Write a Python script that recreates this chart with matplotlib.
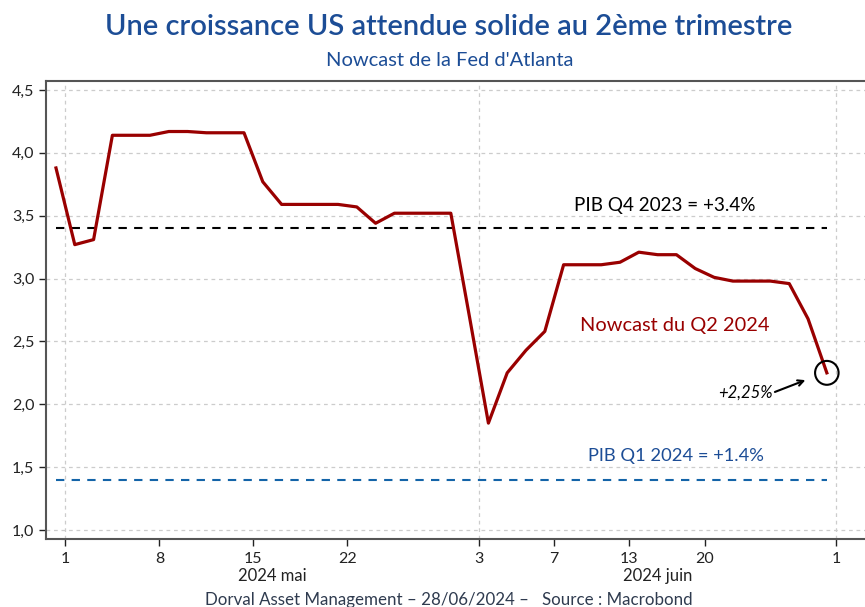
import numpy as np
import matplotlib
matplotlib.use("Agg")
import matplotlib.pyplot as plt
from matplotlib.patches import Ellipse

# GDPNow Q2 2024 (business days, holidays removed)
dates = ["2024-04-30",
         "2024-05-01", "2024-05-02", "2024-05-03", "2024-05-06", "2024-05-07",
         "2024-05-08", "2024-05-09", "2024-05-10", "2024-05-13", "2024-05-14",
         "2024-05-15", "2024-05-16", "2024-05-17", "2024-05-20", "2024-05-21",
         "2024-05-22", "2024-05-23", "2024-05-24", "2024-05-28", "2024-05-29",
         "2024-05-30", "2024-05-31",
         "2024-06-03", "2024-06-04", "2024-06-05", "2024-06-06", "2024-06-07",
         "2024-06-10", "2024-06-11", "2024-06-12", "2024-06-13", "2024-06-14",
         "2024-06-17", "2024-06-18", "2024-06-20", "2024-06-21", "2024-06-24",
         "2024-06-25", "2024-06-26", "2024-06-27", "2024-06-28"]
nowcast = [3.88,
           3.27, 3.31, 4.14, 4.14, 4.14,
           4.17, 4.17, 4.16, 4.16, 4.16,
           3.77, 3.59, 3.59, 3.59, 3.59,
           3.57, 3.44, 3.52, 3.52, 3.52,
           3.52, 2.69,
           1.85, 2.25, 2.43, 2.58, 3.11,
           3.11, 3.11, 3.13, 3.21, 3.19,
           3.19, 3.08, 3.01, 2.98, 2.98,
           2.98, 2.96, 2.68, 2.25]
gdp_q4_2023 = 3.4
gdp_q1_2024 = 1.4

tick_dates = ["2024-05-01", "2024-05-08", "2024-05-15", "2024-05-22",
              "2024-06-03", "2024-06-07", "2024-06-13", "2024-06-20", "2024-07-01"]
tick_labels = ["1", "8", "15", "22", "3", "7", "13", "20", "1"]
month_ticks = ["2024-05-01", "2024-06-03", "2024-07-01"]

navy = "#1c4d96"
red = "#990000"
plt.rcParams['font.family'] = ['Lato', 'DejaVu Sans']

x = np.arange(len(dates))
# ticks sit half a day before their date; July 1 is one past the last point
pos = {d: i - 0.5 for i, d in enumerate(dates)}
pos["2024-07-01"] = len(dates) - 0.5

fig = plt.figure(figsize=(8.65, 6.07), dpi=100)
ax = fig.add_axes([0.0532, 0.112, 0.9468, 0.755])

ax.plot(x, nowcast, color=red, lw=2.3, zorder=3)
ax.plot([x[0], x[-1]], [gdp_q4_2023] * 2, color="black", lw=1.5, ls=(0, (4, 3.5)), zorder=2)
ax.plot([x[0], x[-1]], [gdp_q1_2024] * 2, color="#1464a8", lw=1.5, ls=(0, (4, 3.5)), zorder=2)

ax.set_xlim(-0.53, 43.03)
ax.set_ylim(0.928, 4.574)

ax.set_yticks(np.arange(1.0, 4.51, 0.5))
ax.set_yticklabels([f"{v:.1f}".replace(".", ",") for v in np.arange(1.0, 4.51, 0.5)])
ax.set_xticks([pos[d] for d in tick_dates])
ax.set_xticklabels(tick_labels)
ax.tick_params(labelsize=11.5, colors="#222222", length=5, width=1, direction="out")
ax.tick_params(axis="x", pad=4)

for v in np.arange(1.0, 4.51, 0.5):
    ax.axhline(v, color="#cccccc", lw=0.9, ls=(0, (3, 3)), zorder=0)
for d in month_ticks:
    ax.axvline(pos[d], color="#cccccc", lw=0.9, ls=(0, (3, 3)), zorder=0)

for s in ["left", "bottom", "top"]:
    ax.spines[s].set_color("#555555")
    ax.spines[s].set_linewidth(1.5)
ax.spines["right"].set_visible(False)

ax.text(32.4, 3.58, "PIB Q4 2023 = +3.4%", color="black", fontsize=13.6, ha="center", va="center")
ax.text(33.0, 1.59, "PIB Q1 2024 = +1.4%", color=navy, fontsize=13.2, ha="center", va="center")
ax.text(32.9, 2.63, "Nowcast du Q2 2024", color=red, fontsize=14.4, ha="center", va="center")

# circle around the last point
ax.add_patch(Ellipse((x[-1], nowcast[-1]), 1.25, 0.19, fill=False, ec="black", lw=1.5, zorder=4))
ax.annotate("", xy=(x[-1] - 1.0, nowcast[-1] - 0.05), xytext=(x[-1] - 2.9, nowcast[-1] - 0.16),
            arrowprops=dict(arrowstyle="->", color="black", lw=1.5))
ax.text(x[-1] - 2.9, nowcast[-1] - 0.16, "+2,25%", style="italic", fontsize=12,
        ha="right", va="center")

fig.text(0.3145, 0.051, "2024 mai", fontsize=12, ha="center", va="center", color="#222222")
fig.text(0.76, 0.051, "2024 juin", fontsize=12, ha="center", va="center", color="#222222")

fig.text(0.519, 0.956, "Une croissance US attendue solide au 2ème trimestre",
         fontsize=21, ha="center", va="center", color=navy, fontweight="semibold")
fig.text(0.52, 0.900, "Nowcast de la Fed d'Atlanta", fontsize=14.5, ha="center", va="center", color=navy)
fig.text(0.519, 0.012, "Dorval Asset Management – 28/06/2024 –   Source : Macrobond",
         fontsize=12.2, ha="center", va="center", color="#2f3b4f")

fig.savefig("out.png", dpi=100)
